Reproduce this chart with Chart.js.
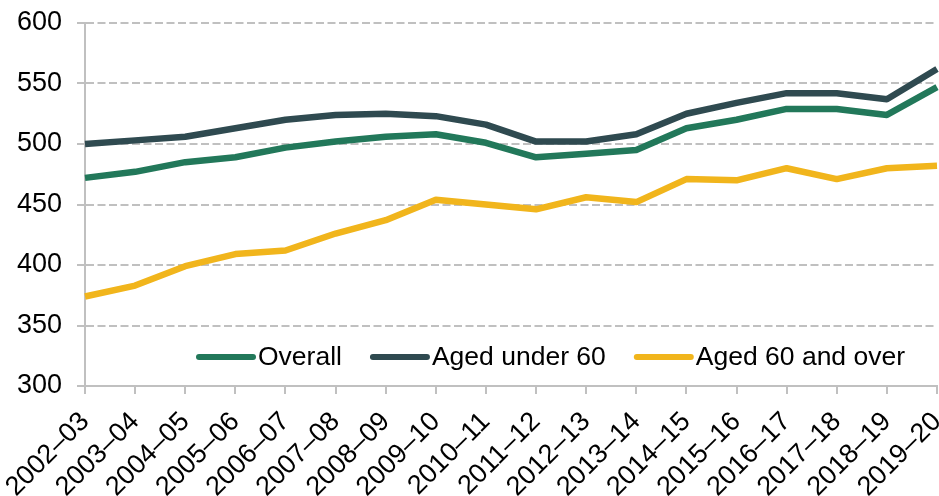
<!DOCTYPE html>
<html>
<head>
<meta charset="utf-8">
<script src="https://cdn.jsdelivr.net/npm/chart.js@4/dist/chart.umd.min.js"></script>
<style>
    body { margin: 0; background: #fff; }
    #wrap { width: 939px; height: 496px; }
</style>
</head>
<body>
<div id="wrap"><canvas id="chart" width="939" height="496"></canvas></div>
<script>
// Financial years on the x axis
const categories = ['2002–03', '2003–04', '2004–05', '2005–06', '2006–07', '2007–08', '2008–09', '2009–10', '2010–11',
    '2011–12', '2012–13', '2013–14', '2014–15', '2015–16', '2016–17', '2017–18', '2018–19', '2019–20'];

// Series values
const overall = [472, 477, 485, 489, 497, 502, 506, 508, 501, 489, 492, 495, 513, 520, 529, 529, 524, 547];
const agedUnder60 = [500, 503, 506, 513, 520, 524, 525, 523, 516, 502, 502, 508, 525, 534, 542, 542, 537, 562];
const aged60AndOver = [374, 383, 399, 409, 412, 426, 437, 454, 450, 446, 456, 452, 471, 470, 480, 471, 480, 482];

// Y axis range and step
const yMin = 300;
const yMax = 600;
const yStep = 50;

const FONT = "'Liberation Sans', Arial, sans-serif";
const GRID = '#c0c0c0';

// Legend drawn inside the plot area, like the original
const insideLegend = {
    id: 'insideLegend',
    afterDraw(chart) {
        const ctx = chart.ctx;
        const y = 357;
        let x = 199;
        ctx.save();
        ctx.font = '26.5px ' + FONT;
        ctx.textBaseline = 'middle';
        ctx.textAlign = 'left';
        chart.data.datasets.forEach(ds => {
            ctx.strokeStyle = ds.borderColor;
            ctx.lineWidth = 6;
            ctx.lineCap = 'round';
            ctx.beginPath();
            ctx.moveTo(x, y);
            ctx.lineTo(x + 54, y);
            ctx.stroke();
            x += 59;
            ctx.fillStyle = '#000';
            ctx.fillText(ds.label, x, y + 1);
            x += ctx.measureText(ds.label).width + 31;
        });
        ctx.restore();
    }
};

const ctx = document.getElementById('chart').getContext('2d');
new Chart(ctx, {
    type: 'line',
    data: {
        labels: categories,
        datasets: [
            { label: 'Overall', data: overall, borderColor: '#22785a' },
            { label: 'Aged under 60', data: agedUnder60, borderColor: '#2f4a50' },
            { label: 'Aged 60 and over', data: aged60AndOver, borderColor: '#f1b51c' }
        ]
    },
    options: {
        responsive: false,
        animation: false,
        elements: {
            line: { borderWidth: 6.5, tension: 0, borderJoinStyle: 'round', fill: false },
            point: { radius: 0, hoverRadius: 0 }
        },
        layout: { padding: { top: 23, right: 2, bottom: 0, left: 0 } },
        plugins: {
            legend: { display: false },
            tooltip: { enabled: false }
        },
        scales: {
            x: {
                offset: false,
                grid: { display: true, drawOnChartArea: false, drawTicks: true, tickLength: 8, color: GRID, lineWidth: 2 },
                border: { display: true, color: GRID, width: 2 },
                ticks: {
                    autoSkip: false,
                    maxRotation: 45,
                    minRotation: 45,
                    padding: 12,
                    color: '#000',
                    font: { family: FONT, size: 27 }
                },
                afterFit(scale) {
                    scale.height = 110;
                    scale.paddingLeft = 0;
                    scale.paddingRight = 0;
                }
            },
            y: {
                min: yMin,
                max: yMax,
                grid: { color: GRID, lineWidth: 2, tickLength: 8, tickBorderDash: [8, 3.5] },
                border: { display: true, color: GRID, width: 2, dash: [8, 3.5] },
                ticks: {
                    stepSize: yStep,
                    padding: 15,
                    color: '#000',
                    font: { family: FONT, size: 27 }
                },
                afterFit(scale) {
                    scale.width = 85;
                    scale.paddingTop = 0;
                    scale.paddingBottom = 0;
                }
            }
        }
    },
    plugins: [insideLegend]
});
</script>
</body>
</html>
